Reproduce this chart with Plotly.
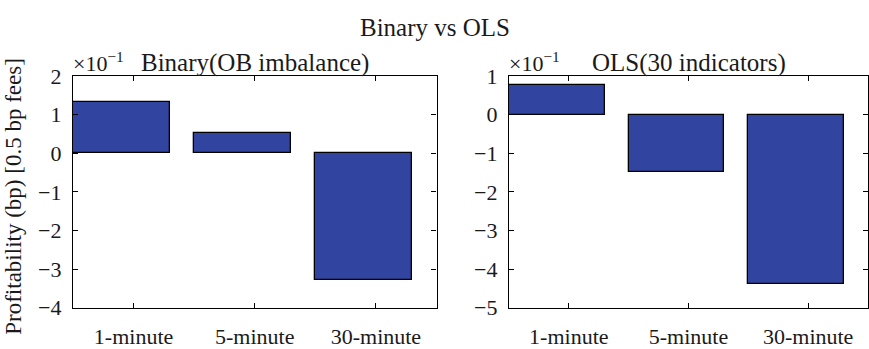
import plotly.graph_objects as go

categories = ["1-minute", "5-minute", "30-minute"]
binary_vals = [1.33, 0.53, -3.28]
ols_vals = [0.77, -1.48, -4.38]
fig_title = "Binary vs OLS"
sub_titles = ["Binary(OB imbalance)", "OLS(30 indicators)"]
y_label = "Profitability (bp) [0.5 bp fees]"
y_ranges = [[-4, 2], [-5, 1]]

W, H = 869, 349
FONT = "Liberation Serif"
BAR = "rgb(49,68,160)"

def px(x):
    return x / W

def py(y):
    return 1 - y / H

top, bottom = 69, 318.5
doms = [(73, 436.5), (509, 868)]

fig = go.Figure()
pos = list(range(len(categories)))
for i, vals in enumerate([binary_vals, ols_vals]):
    ax = "" if i == 0 else "2"
    fig.add_trace(go.Bar(
        x=pos, y=vals, width=0.8, offset=-0.5,
        marker=dict(color=BAR, line=dict(color="black", width=1.3)),
        xaxis="x" + ax, yaxis="y" + ax, showlegend=False,
    ))

axis_common = dict(showline=True, linecolor="black", linewidth=1.3, mirror="ticks",
                   ticks="inside", ticklen=5, tickcolor="black", tickwidth=1,
                   showgrid=False, zeroline=False,
                   tickfont=dict(family=FONT, size=22, color="#1a1a1a"))
layout = dict(width=W, height=H, margin=dict(l=0, r=0, t=0, b=0),
              paper_bgcolor="white", plot_bgcolor="white", bargap=0)
for i in range(2):
    ax = "" if i == 0 else "2"
    d0, d1 = doms[i]
    layout["xaxis" + ax] = dict(axis_common, domain=[px(d0), px(d1)], range=[-0.5, 2.5],
                                tickvals=pos, ticktext=categories,
                                anchor="y" + ax, ticklabelstandoff=9)
    layout["yaxis" + ax] = dict(axis_common, domain=[py(bottom), py(top)], range=y_ranges[i],
                                dtick=1, anchor="x" + ax, ticklabelstandoff=6)
fig.update_layout(**layout)

anns = []
anns.append(dict(text=fig_title, x=0.5, y=py(17), xref="paper", yref="paper",
                 showarrow=False, xanchor="center", yanchor="middle",
                 font=dict(family=FONT, size=25, color="#1a1a1a")))
for i in range(2):
    d0, d1 = doms[i]
    anns.append(dict(text=sub_titles[i], x=px((d0 + d1) / 2), y=py(55), xref="paper", yref="paper",
                     showarrow=False, xanchor="center", yanchor="middle",
                     font=dict(family=FONT, size=25, color="#1a1a1a")))
    anns.append(dict(text="×10<sup>−1</sup>", x=px(d0 - 2), y=py(top + 2), xref="paper", yref="paper",
                     showarrow=False, xanchor="left", yanchor="bottom",
                     font=dict(family=FONT, size=22, color="#1a1a1a")))
anns.append(dict(text=y_label, x=px(14), y=py(199), xref="paper", yref="paper",
                 showarrow=False, xanchor="center", yanchor="middle", textangle=-90,
                 font=dict(family=FONT, size=23, color="#1a1a1a")))
fig.update_layout(annotations=anns)

fig.write_html("out.html")
